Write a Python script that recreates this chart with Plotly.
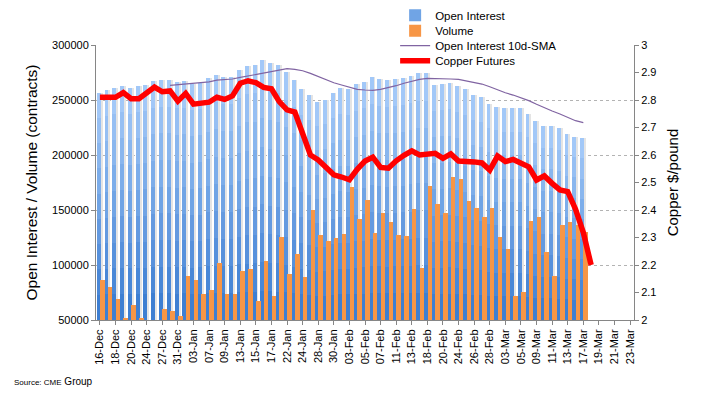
import plotly.graph_objects as go

# ---- data ----
dates = [
    "16-Dec", "17-Dec", "18-Dec", "19-Dec", "20-Dec", "23-Dec", "24-Dec", "26-Dec", "27-Dec", "30-Dec", "31-Dec",
    "02-Jan", "03-Jan", "06-Jan", "07-Jan", "08-Jan", "09-Jan", "10-Jan", "13-Jan", "14-Jan", "15-Jan", "16-Jan",
    "17-Jan", "21-Jan", "22-Jan", "23-Jan", "24-Jan", "27-Jan", "28-Jan", "29-Jan", "30-Jan", "31-Jan",
    "03-Feb", "04-Feb", "05-Feb", "06-Feb", "07-Feb", "10-Feb", "11-Feb", "12-Feb", "13-Feb", "14-Feb",
    "18-Feb", "19-Feb", "20-Feb", "21-Feb", "24-Feb", "25-Feb", "26-Feb", "27-Feb", "28-Feb",
    "02-Mar", "03-Mar", "04-Mar", "05-Mar", "06-Mar", "09-Mar", "10-Mar", "11-Mar", "12-Mar", "13-Mar",
    "16-Mar", "17-Mar", "18-Mar", "19-Mar", "20-Mar", "21-Mar", "22-Mar", "23-Mar",
]

tick_labels = dates[::2]

open_interest = [
    256700, 259100, 260900, 262700, 260900, 262700, 263600, 267300, 268200, 268200,
    266400, 267300, 264500, 265700, 270000, 272700, 270900, 270900, 277300, 280900,
    281800, 286400, 283600, 281800, 275500, 268200, 260000, 254500, 248200, 250000,
    256400, 260600, 260000, 264200, 266400, 271200, 269100, 268200, 269100, 270000,
    271800, 274200, 274200, 263600, 264500, 265500, 262700, 260000, 254500, 252700,
    246400, 243900, 242700, 242700, 242700, 237300, 231200, 226400, 226400, 224300,
    218900, 216600, 215300,
]

volume = [
    86700, 80000, 69100, 52100, 63600, 52100, 45000, 45000, 60300, 58200,
    53600, 90000, 86700, 73600, 77300, 101800, 73600, 73600, 94800, 96700,
    67600, 103900, 72100, 125500, 92100, 110300, 89400, 150000, 127600, 122100,
    124800, 128500, 171200, 141800, 159100, 129100, 147300, 139100, 127300, 126400,
    150900, 97300, 171800, 155500, 147300, 180000, 178200, 158200, 151800, 143600,
    151800, 125500, 114500, 71800, 75500, 140000, 143600, 111800, 90000, 136400,
    139100, 136400, 130000,
]

# 10-day SMA of open interest, first value on the 10th session
oi_sma = [None] * 9 + [
    263300, 264000, 264700, 265200, 265800, 266500, 268000, 268500, 269100, 270500,
    271800, 272900, 274600, 276000, 277300, 278500, 277900, 276600, 274200, 271200,
    268200, 265700, 263600, 261500, 259700, 259100, 258800, 259700, 261200, 263000,
    265200, 267000, 268800, 269700, 269700, 269400, 269100, 268800, 267500, 266100,
    264500, 262100, 259100, 256600, 254500, 252100, 249400, 246100, 242700, 240000,
    237300, 234300, 231200, 229400,
]

copper = [
    2.810, 2.812, 2.810, 2.827, 2.805, 2.805, 2.824, 2.847, 2.830, 2.833,
    2.796, 2.824, 2.785, 2.788, 2.792, 2.810, 2.802, 2.815, 2.861, 2.870,
    2.863, 2.846, 2.841, 2.794, 2.764, 2.756, 2.679, 2.600, 2.582, 2.555,
    2.528, 2.520, 2.510, 2.548, 2.578, 2.592, 2.555, 2.552, 2.579, 2.599,
    2.615, 2.600, 2.602, 2.606, 2.588, 2.604, 2.578, 2.578, 2.575, 2.571,
    2.545, 2.596, 2.576, 2.584, 2.573, 2.557, 2.509, 2.524, 2.497, 2.473,
    2.467, 2.403, 2.318, 2.200,
]


def pad(vals):
    return list(vals) + [None] * (len(dates) - len(vals))


FONT = "Liberation Sans, Arial, sans-serif"
AXIS_GREY = "#868686"
Y_MIN, Y_MAX = 50000, 300000

fig = go.Figure()

# shadow strip behind the open-interest bars
fig.add_trace(go.Bar(
    x=dates, y=pad(open_interest), offset=-0.28, width=0.62,
    marker=dict(color="#e4e4e4", line=dict(width=0)),
    showlegend=False, hoverinfo="skip",
))

# open interest bars with a stepped vertical gradient (light top, darker bottom)
light = (162, 200, 248)
dark = (62, 127, 210)
n_bands = 9
for k in range(n_bands):
    t = k / (n_bands - 1)
    col = "rgb({},{},{})".format(*[round(light[i] + (dark[i] - light[i]) * t) for i in range(3)])
    frac = 1 - k / n_bands
    yk = [Y_MIN + (v - Y_MIN) * frac for v in open_interest]
    fig.add_trace(go.Bar(
        x=dates, y=pad(yk), offset=-0.41, width=0.5,
        marker=dict(color=col, line=dict(width=0)),
        name="Open Interest", showlegend=(k == 4), legend="legend",
        hoverinfo="skip" if k else None,
    ))

fig.add_trace(go.Bar(
    x=dates, y=pad(volume), offset=0.02, width=0.58,
    marker=dict(color="#F79646", line=dict(width=0)),
    name="Volume", legend="legend2",
))

fig.add_trace(go.Scatter(
    x=dates, y=pad(oi_sma), mode="lines",
    line=dict(color="#8064A2", width=1.2),
    name="Open Interest 10d-SMA", legend="legend3",
))

fig.add_trace(go.Scatter(
    x=dates, y=pad(copper), mode="lines", yaxis="y2",
    line=dict(color="#FF0000", width=5.5),
    name="Copper Futures", legend="legend4",
))


def leg(yc):
    return dict(
        x=0.556, y=yc, xanchor="left", yanchor="middle",
        bgcolor="rgba(0,0,0,0)", font=dict(family=FONT, size=11.5, color="#000"),
        itemwidth=30,
    )


fig.update_layout(
    width=702, height=393,
    # the page adds an 8 px body margin, so the figure is shifted up/left by 8 px
    margin=dict(l=88, r=76, t=37, b=81, autoexpand=False),
    paper_bgcolor="white", plot_bgcolor="white",
    font=dict(family=FONT, size=11, color="#000000"),
    barmode="overlay", bargap=0,
    showlegend=True,
    legend=leg(1.108),
    legend2=leg(1.052),
    legend3=leg(0.998),
    legend4=leg(0.943),
    # hides the top gridline behind the legend text (drawn under the traces)
    shapes=[dict(
        type="rect", xref="paper", yref="paper", layer="between",
        x0=0.54, x1=0.885, y0=0.99, y1=1.01,
        fillcolor="white", line=dict(width=0),
    )],
    xaxis=dict(
        type="category", categoryorder="array", categoryarray=dates,
        range=[-0.5, len(dates) - 0.5],
        tickmode="array", tickvals=tick_labels, ticktext=tick_labels,
        tickangle=-90, tickfont=dict(size=11),
        showline=True, linecolor=AXIS_GREY, linewidth=1,
        ticks="outside", ticklen=4, tickcolor=AXIS_GREY,
        showgrid=False, zeroline=False,
    ),
    yaxis=dict(
        range=[Y_MIN, Y_MAX], dtick=50000, tickformat="d",
        title=dict(text="Open Interest / Volume (contracts)", font=dict(size=15.5), standoff=10),
        showline=True, linecolor=AXIS_GREY, linewidth=1,
        ticks="outside", ticklen=4, tickcolor=AXIS_GREY,
        showgrid=True, gridcolor="#b3b3b3", griddash="3px,3px", gridwidth=1,
        zeroline=False,
    ),
    yaxis2=dict(
        range=[2, 3], dtick=0.1, overlaying="y", side="right",
        title=dict(text="Copper $/pound", font=dict(size=15), standoff=12),
        showline=True, linecolor=AXIS_GREY, linewidth=1,
        ticks="outside", ticklen=4, tickcolor=AXIS_GREY,
        showgrid=False, zeroline=False,
    ),
    annotations=[dict(
        text="<span style='font-size:8px'>Source: CME</span> Group",
        xref="paper", yref="paper", x=-0.156, y=-0.222,
        xanchor="left", yanchor="middle", showarrow=False,
        font=dict(family=FONT, size=10, color="#000"),
    )],
)

fig.write_html("out.html")
